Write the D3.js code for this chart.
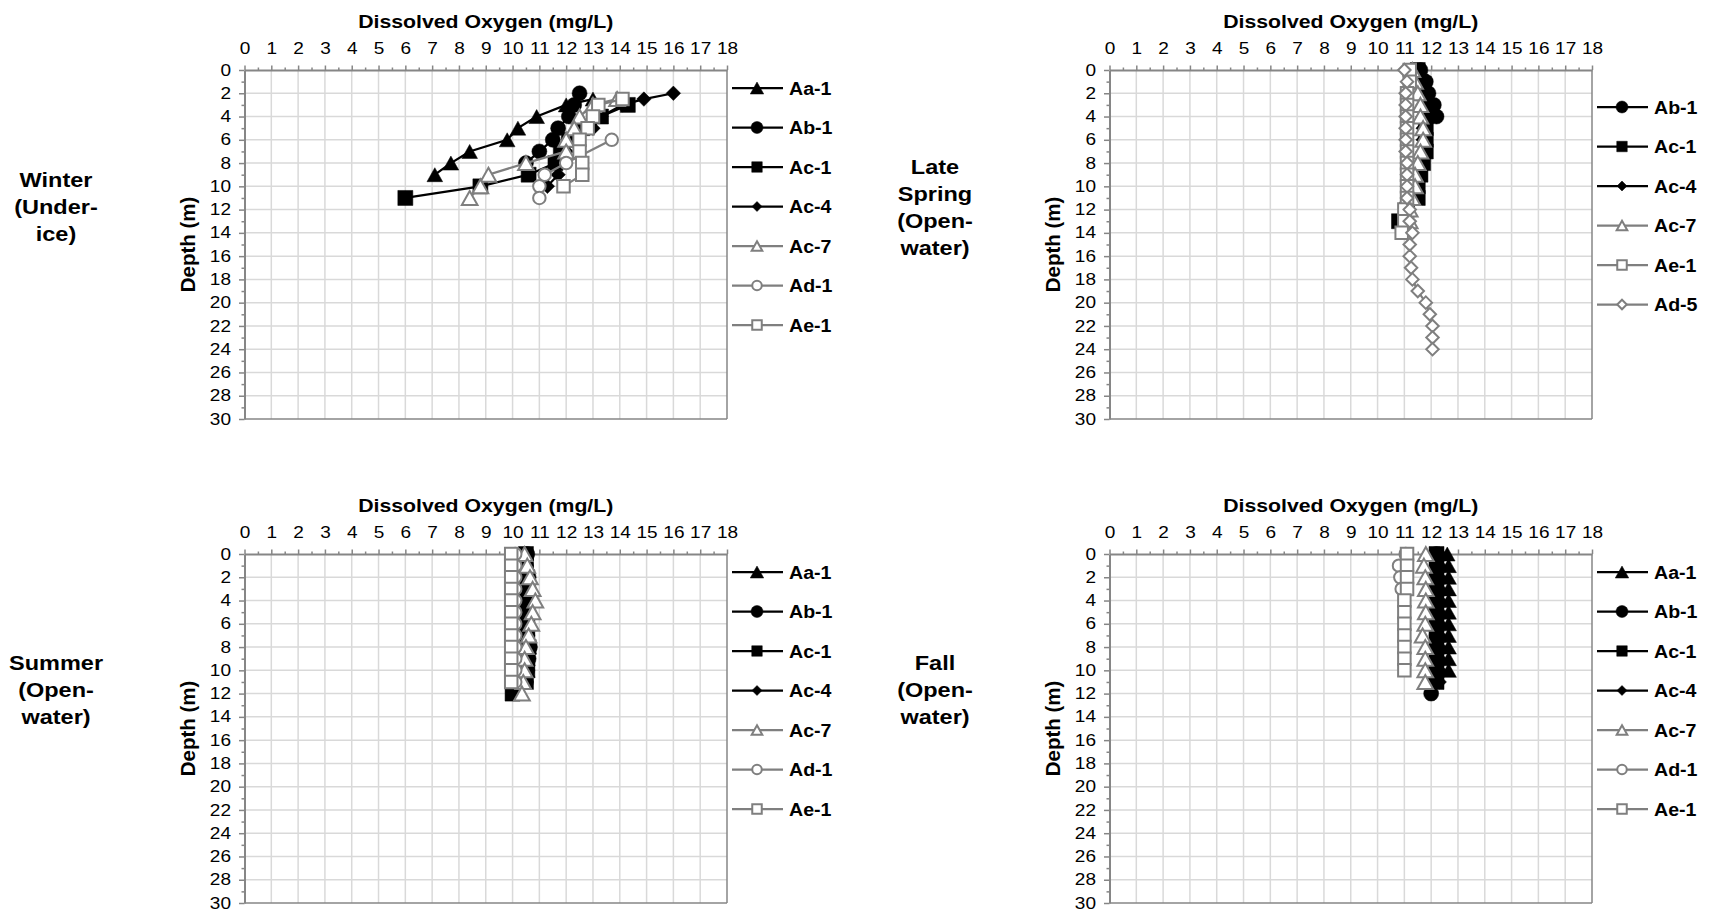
<!DOCTYPE html>
<html><head><meta charset="utf-8">
<script src="https://cdn.jsdelivr.net/npm/d3@7"></script>
<style>
body{margin:0;background:#fff;}
svg{display:block;font-family:"Liberation Sans",Arial,sans-serif;}
</style>
</head><body>
<svg id="chart" width="1711" height="911"></svg>
<script>
// ---------- DATA ----------
const doTicks = [0,1,2,3,4,5,6,7,8,9,10,11,12,13,14,15,16,17,18];
const depthTicks = [0,2,4,6,8,10,12,14,16,18,20,22,24,26,28,30];
const xTitle = "Dissolved Oxygen (mg/L)";
const yTitle = "Depth (m)";

const winterLabel = ["Winter","(Under-","ice)"];
const springLabel = ["Late","Spring","(Open-","water)"];
const summerLabel = ["Summer","(Open-","water)"];
const fallLabel = ["Fall","(Open-","water)"];

const sitesA = ["Aa-1","Ab-1","Ac-1","Ac-4","Ac-7","Ad-1","Ae-1"];
const sitesSpring = ["Ab-1","Ac-1","Ac-4","Ac-7","Ae-1","Ad-5"];

// each point: [dissolved oxygen (mg/L), depth (m)]
const winterAa1 = [[13.0,2.5],[12.0,3],[10.9,4],[10.2,5],[9.8,6],[8.4,7],[7.7,8],[7.1,9]];
const winterAb1 = [[12.5,2],[12.3,3],[12.1,4],[11.7,5],[11.5,6],[11.0,7],[10.5,8]];
const winterAc1 = [[14.3,3],[13.3,4],[12.6,5],[12.1,6],[11.8,7],[11.6,8],[10.6,9],[8.8,10],[6.0,11]];
const winterAc4 = [[16.0,2],[14.9,2.5],[14.1,3],[13.3,4],[13.0,5],[12.3,6],[12.0,7],[11.8,8],[11.7,9],[11.3,10]];
const winterAc7 = [[13.9,2.5],[13.0,3],[12.5,4],[12.3,5],[12.0,6],[12.0,7],[10.5,8],[9.1,9],[8.8,10],[8.4,11]];
const winterAd1 = [[13.7,6],[12.0,8],[11.2,9],[11.0,10],[11.0,11]];
const winterAe1 = [[14.1,2.5],[13.2,3],[13.0,4],[12.8,5],[12.5,6],[12.5,7],[12.6,8],[12.6,9],[11.9,10]];

const springAb1 = [[11.6,0],[11.8,1],[11.9,2],[12.1,3],[12.2,4]];
const springAc1 = [[11.5,0],[11.6,1],[11.7,2],[11.8,3],[11.8,4],[11.8,5],[11.8,6],[11.8,7],[11.7,8],[11.6,9],[11.5,10],[11.5,11],[11.1,12],[10.8,13]];
const springAc4 = [[11.5,0],[11.6,1],[11.6,2],[11.7,3],[11.7,4],[11.7,5],[11.7,6],[11.7,7],[11.6,8],[11.5,9],[11.4,10],[11.4,11]];
const springAc7 = [[11.3,0],[11.4,1],[11.5,2],[11.6,3],[11.6,4],[11.7,5],[11.7,6],[11.6,7],[11.5,8],[11.4,9],[11.4,10],[11.3,11],[11.2,12],[11.2,13]];
const springAe1 = [[11.2,0],[11.2,1],[11.1,2],[11.1,3],[11.1,4],[11.1,5],[11.1,6],[11.1,7],[11.1,8],[11.1,9],[11.1,10],[11.1,11],[11.0,12],[11.0,13],[10.9,14]];
const springAd5 = [[11.0,0],[11.1,1],[11.05,2],[11.05,3],[11.05,4],[11.05,5],[11.05,6],[11.05,7],[11.1,8],[11.1,9],[11.1,10],[11.1,11],[11.2,12],[11.2,13],[11.3,14],[11.2,15],[11.2,16],[11.25,17],[11.3,18],[11.5,19],[11.8,20],[11.95,21],[12.05,22],[12.05,23],[12.05,24]];

const summerAa1 = [[10.5,0],[10.5,1],[10.6,2],[10.6,3],[10.6,4],[10.6,5],[10.6,6],[10.6,7],[10.6,8],[10.55,9],[10.55,10]];
const summerAb1 = [[10.55,0],[10.5,1],[10.6,2],[10.6,3],[10.6,4],[10.6,5],[10.55,6],[10.55,7],[10.65,8],[10.6,9],[10.55,10],[10.5,11]];
const summerAc1 = [[10.5,0],[10.5,1],[10.55,2],[10.55,3],[10.55,4],[10.55,5],[10.55,6],[10.55,7],[10.6,8],[10.55,9],[10.55,10],[10.5,11],[10.0,12]];
const summerAc4 = [[10.5,0],[10.5,1],[10.55,2],[10.6,3],[10.6,4],[10.6,5],[10.55,6],[10.55,7],[10.6,8],[10.55,9],[10.55,10],[10.5,11]];
const summerAc7 = [[10.45,0],[10.55,1],[10.65,2],[10.75,3],[10.85,4],[10.75,5],[10.7,6],[10.6,7],[10.5,8],[10.45,9],[10.45,10],[10.4,11],[10.35,12]];
const summerAd1 = [[10.1,0],[10.1,1],[10.1,2],[10.1,3],[10.1,4],[10.1,5],[10.1,6],[10.1,7],[10.1,8],[10.1,9],[10.1,10],[10.1,11]];
const summerAe1 = [[9.95,0],[9.95,1],[9.95,2],[9.95,3],[9.95,4],[9.95,5],[9.95,6],[9.95,7],[9.95,8],[9.95,9],[9.95,10],[9.95,11]];

const fallAa1 = [[12.6,0],[12.65,1],[12.65,2],[12.65,3],[12.65,4],[12.65,5],[12.65,6],[12.65,7],[12.65,8],[12.65,9],[12.65,10]];
const fallAb1 = [[12.2,0],[12.2,1],[12.2,2],[12.2,3],[12.2,4],[12.2,5],[12.2,6],[12.2,7],[12.2,8],[12.2,9],[12.15,10],[12.1,11],[12.0,12]];
const fallAc1 = [[12.2,0],[12.2,1],[12.2,2],[12.2,3],[12.2,4],[12.2,5],[12.2,6],[12.2,7],[12.2,8],[12.2,9],[12.2,10],[12.2,11]];
const fallAc4 = [[12.3,0],[12.3,1],[12.3,2],[12.3,3],[12.3,4],[12.3,5],[12.3,6],[12.3,7],[12.3,8],[12.3,9],[12.3,10],[12.3,11]];
const fallAc7 = [[11.8,0],[11.73,1],[11.78,2],[11.8,3],[11.8,4],[11.8,5],[11.78,6],[11.68,7],[11.78,8],[11.78,9],[11.78,10],[11.78,11]];
const fallAd1 = [[11.05,0],[10.8,1],[10.85,2],[10.9,3]];
const fallAe1 = [[11.1,0],[11.1,1],[11.1,2],[11.1,3],[11.0,4],[11.0,5],[11.0,6],[11.0,7],[11.0,8],[11.0,9],[11.0,10]];

// ---------- STYLE / LAYOUT ----------
const BLACK = "#000000", GRAY = "#7f7f7f";
const seriesStyle = {
  "Aa-1": {color: BLACK, shape: "triangle", open: false},
  "Ab-1": {color: BLACK, shape: "circle", open: false},
  "Ac-1": {color: BLACK, shape: "square", open: false},
  "Ac-4": {color: BLACK, shape: "diamond", open: false},
  "Ac-7": {color: GRAY, shape: "triangle", open: true},
  "Ad-1": {color: GRAY, shape: "circle", open: true},
  "Ae-1": {color: GRAY, shape: "square", open: true},
  "Ad-5": {color: GRAY, shape: "diamond", open: true}
};

const panels = [
  {label: winterLabel, names: sitesA, ox: 244.5, oy: 70, lx: 56, ly: 187, legY: 88,
   data: {"Aa-1": winterAa1, "Ab-1": winterAb1, "Ac-1": winterAc1, "Ac-4": winterAc4, "Ac-7": winterAc7, "Ad-1": winterAd1, "Ae-1": winterAe1}},
  {label: springLabel, names: sitesSpring, ox: 1109.5, oy: 70, lx: 935, ly: 174, legY: 107,
   data: {"Ab-1": springAb1, "Ac-1": springAc1, "Ac-4": springAc4, "Ac-7": springAc7, "Ae-1": springAe1, "Ad-5": springAd5}},
  {label: summerLabel, names: sitesA, ox: 244.5, oy: 554, lx: 56, ly: 670, legY: 572,
   data: {"Aa-1": summerAa1, "Ab-1": summerAb1, "Ac-1": summerAc1, "Ac-4": summerAc4, "Ac-7": summerAc7, "Ad-1": summerAd1, "Ae-1": summerAe1}},
  {label: fallLabel, names: sitesA, ox: 1109.5, oy: 554, lx: 935, ly: 670, legY: 572,
   data: {"Aa-1": fallAa1, "Ab-1": fallAb1, "Ac-1": fallAc1, "Ac-4": fallAc4, "Ac-7": fallAc7, "Ad-1": fallAd1, "Ae-1": fallAe1}}
];

const PW = 482.5, PH = 349, SX = 1.12;
const AXIS = "#868686", GRID = "#d9d9d9";

function markerPath(shape, s) {
  if (shape === "triangle") { const w = s * 1.12, h = s; return `M0,${-h/2}L${w/2},${h/2}L${-w/2},${h/2}Z`; }
  if (shape === "square") return `M${-s/2},${-s/2}h${s}v${s}h${-s}Z`;
  if (shape === "diamond") { const r = s / 2; return `M0,${-r}L${r},0L0,${r}L${-r},0Z`; }
  const r = s / 2; return `M${-r},0a${r},${r} 0 1,0 ${2*r},0a${r},${r} 0 1,0 ${-2*r},0Z`;
}
function plotSize(st) {
  if (st.open) return st.shape === "triangle" ? 14 : 12.5;
  return st.shape === "diamond" ? 14.5 : st.shape === "triangle" ? 14 : 15;
}
function legendSize(st) {
  if (st.open) return 9.5;
  return st.shape === "diamond" ? 10 : st.shape === "square" ? 10.5 : 12;
}
function drawMarker(g, st, size, x, y) {
  g.append("path").attr("d", markerPath(st.shape, size))
    .attr("transform", `translate(${x},${y})`)
    .attr("fill", st.open ? "#fff" : st.color)
    .attr("stroke", st.color).attr("stroke-width", st.open ? 2 : 0.5);
}
function stretchText(g, x, y, str, size, bold, anchor) {
  return g.append("text").attr("transform", `translate(${x},${y}) scale(${SX},1)`)
    .attr("text-anchor", anchor || "start")
    .style("font-size", size + "px").style("font-weight", bold ? "bold" : "normal")
    .attr("fill", "#000").text(str);
}

const svg = d3.select("#chart");

panels.forEach(p => {
  const g = svg.append("g").attr("transform", `translate(${p.ox},${p.oy})`);
  const x = d3.scaleLinear().domain([0, 18]).range([0, PW]);
  const y = d3.scaleLinear().domain([0, 30]).range([0, PH]);

  // gridlines
  g.append("g").selectAll("line").data(doTicks.filter(v => v > 0 && v < 18)).join("line")
    .attr("x1", d => x(d)).attr("x2", d => x(d)).attr("y1", 0).attr("y2", PH)
    .attr("stroke", GRID).attr("stroke-width", 1.5);
  g.append("g").selectAll("line").data(depthTicks.filter(v => v > 0 && v < 30)).join("line")
    .attr("x1", 0).attr("x2", PW).attr("y1", d => y(d)).attr("y2", d => y(d))
    .attr("stroke", GRID).attr("stroke-width", 1.5);
  // right / bottom border
  g.append("line").attr("x1", PW).attr("x2", PW).attr("y1", 0).attr("y2", PH).attr("stroke", AXIS).attr("stroke-width", 1.5);
  g.append("line").attr("x1", 0).attr("x2", PW).attr("y1", PH).attr("y2", PH).attr("stroke", AXIS).attr("stroke-width", 1.5);

  // minor ticks
  const minorX = d3.range(0.5, 18, 1);
  g.append("g").call(d3.axisTop(x).tickValues(minorX).tickSize(2.5).tickSizeOuter(0).tickFormat(""))
    .call(a => a.select(".domain").remove())
    .call(a => a.selectAll("line").attr("stroke", AXIS).attr("stroke-width", 1.5));
  const minorY = d3.range(1, 30, 2);
  g.append("g").call(d3.axisLeft(y).tickValues(minorY).tickSize(3).tickSizeOuter(0).tickFormat(""))
    .call(a => a.select(".domain").remove())
    .call(a => a.selectAll("line").attr("stroke", AXIS).attr("stroke-width", 1.5));

  // major axes
  const ax = g.append("g").call(d3.axisTop(x).tickValues(doTicks).tickSize(4.5).tickSizeOuter(0).tickPadding(11.5));
  ax.select(".domain").attr("stroke", AXIS).attr("stroke-width", 2);
  ax.selectAll("line").attr("stroke", AXIS).attr("stroke-width", 1.5);
  ax.selectAll("text").attr("transform", `scale(${SX},1)`).style("font-size", "17px")
    .style("font-family", '"Liberation Sans",Arial,sans-serif').attr("fill", "#000");

  const ay = g.append("g").call(d3.axisLeft(y).tickValues(depthTicks).tickSize(5.5).tickSizeOuter(0));
  ay.select(".domain").attr("stroke", AXIS).attr("stroke-width", 2);
  ay.selectAll("line").attr("stroke", AXIS).attr("stroke-width", 1.5);
  ay.selectAll("text").attr("x", -13.5 / SX).attr("dy", "0.3em").attr("transform", `scale(${SX},1)`).style("font-size", "17px")
    .style("font-family", '"Liberation Sans",Arial,sans-serif').attr("fill", "#000");

  // titles
  stretchText(g, PW / 2, -42, xTitle, 19, true, "middle");
  g.append("text").attr("transform", `translate(-50,${PH / 2}) rotate(-90)`)
    .attr("text-anchor", "middle").style("font-size", "20.5px").style("font-weight", "bold").text(yTitle);

  // series
  const line = d3.line().x(d => x(d[0])).y(d => y(d[1]));
  p.names.forEach(name => {
    const st = seriesStyle[name], pts = p.data[name];
    g.append("path").datum(pts).attr("d", line).attr("fill", "none")
      .attr("stroke", st.color).attr("stroke-width", 2.25);
    const mg = g.append("g");
    pts.forEach(d => drawMarker(mg, st, plotSize(st), x(d[0]), y(d[1])));
  });

  // legend
  p.names.forEach((name, i) => {
    const st = seriesStyle[name];
    const cy = p.legY - p.oy + i * 39.5;
    g.append("line").attr("x1", PW + 5).attr("x2", PW + 56).attr("y1", cy).attr("y2", cy)
      .attr("stroke", st.color).attr("stroke-width", 2.25);
    drawMarker(g, st, legendSize(st), PW + 30, cy);
    stretchText(g, PW + 62, cy + 6.5, name, 17.5, true, "start");
  });

  // season label
  p.label.forEach((t, i) => {
    stretchText(svg, p.lx, p.ly + i * 27, t, 21, true, "middle");
  });
});
</script>
</body></html>
